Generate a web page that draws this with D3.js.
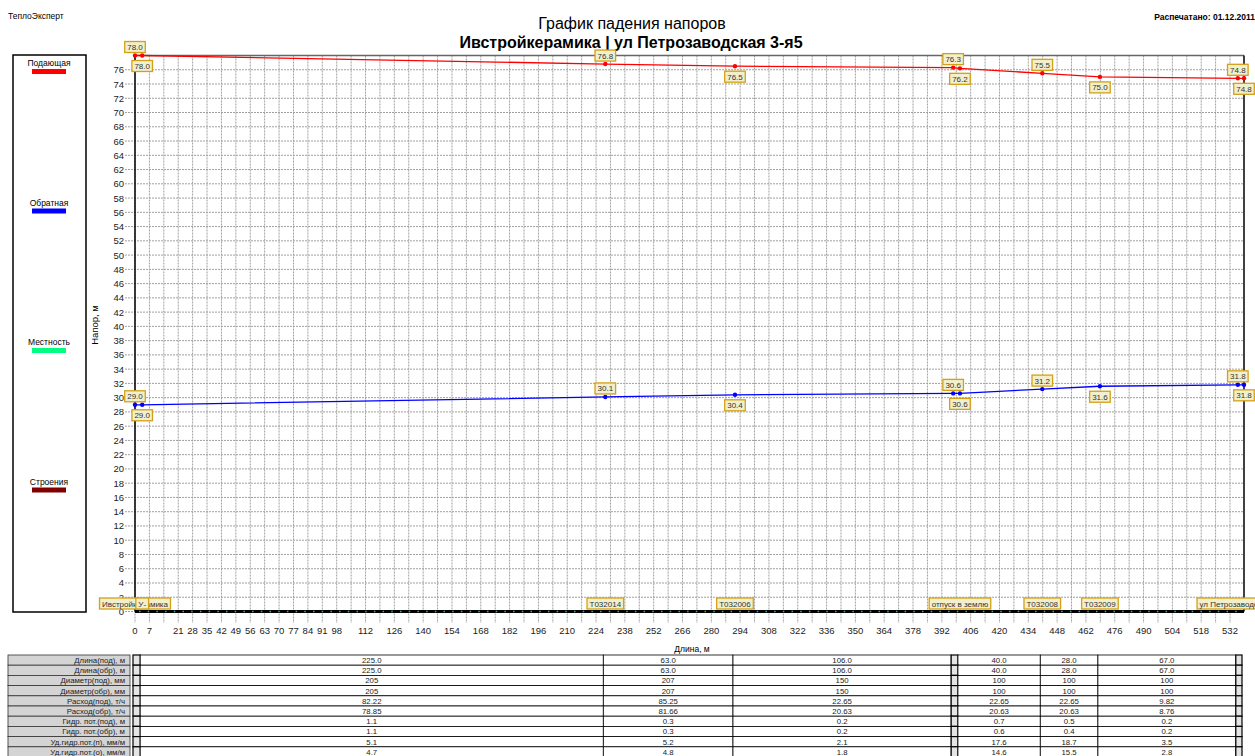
<!DOCTYPE html>
<html><head><meta charset="utf-8">
<script src="https://cdn.jsdelivr.net/npm/d3@7"></script>
<style>body{margin:0;background:#fff}svg{display:block}</style>
</head><body>
<svg id="c" width="1255" height="756"></svg>
<script>
// ---- data ----
const nodeDist   = [0, 3.5, 228.5, 291.5, 397.5, 400.8, 440.8, 468.8, 535.8, 538.8];
const supplyHead = [78.0, 78.0, 76.8, 76.5, 76.3, 76.2, 75.5, 75.0, 74.8, 74.8];
const returnHead = [29.0, 29.0, 30.1, 30.4, 30.6, 30.6, 31.2, 31.6, 31.8, 31.8];
const nodeNames  = ["Ивстройкерамика", "У-", "T032014", "T032006", "", "отпуск в землю", "T032008", "T032009", "", "ул Петрозаводская 3-я5"];
const xTickLabels = [0, 7, 21, 28, 35, 42, 49, 56, 63, 70, 77, 84, 91, 98, 112, 126, 140, 154, 168, 182, 196, 210, 224, 238, 252, 266, 280, 294, 308, 322, 336, 350, 364, 378, 392, 406, 420, 434, 448, 462, 476, 490, 504, 518, 532];
const yTickLabels = [0,2,4,6,8,10,12,14,16,18,20,22,24,26,28,30,32,34,36,38,40,42,44,46,48,50,52,54,56,58,60,62,64,66,68,70,72,74,76];
const legendNames = ["Подающая", "Обратная", "Местность", "Строения"];
const legendColors = ["#ff0000", "#0000ff", "#00ff80", "#800000"];
const tableRows = ["Длина(под), м", "Длина(обр), м", "Диаметр(под), мм", "Диаметр(обр), мм", "Расход(под), т/ч", "Расход(обр), т/ч", "Гидр. пот.(под), м", "Гидр. пот.(обр), м", "Уд.гидр.пот.(п), мм/м", "Уд.гидр.пот.(о), мм/м"];
// columns: segment between consecutive nodes (narrow segments have no values)
const lenSup  = ["", "225.0", "63.0", "106.0", "", "40.0", "28.0", "67.0", ""];
const lenRet  = ["", "225.0", "63.0", "106.0", "", "40.0", "28.0", "67.0", ""];
const diaSup  = ["", "205", "207", "150", "", "100", "100", "100", ""];
const diaRet  = ["", "205", "207", "150", "", "100", "100", "100", ""];
const flowSup = ["", "82.22", "85.25", "22.65", "", "22.65", "22.65", "9.82", ""];
const flowRet = ["", "78.85", "81.66", "20.63", "", "20.63", "20.63", "8.76", ""];
const lossSup = ["", "1.1", "0.3", "0.2", "", "0.7", "0.5", "0.2", ""];
const lossRet = ["", "1.1", "0.3", "0.2", "", "0.6", "0.4", "0.2", ""];
const specSup = ["", "5.1", "5.2", "2.1", "", "17.6", "18.7", "3.5", ""];
const specRet = ["", "4.7", "4.8", "1.8", "", "14.6", "15.5", "2.8", ""];
const tableValues = [lenSup, lenRet, diaSup, diaRet, flowSup, flowRet, lossSup, lossRet, specSup, specRet];

// ---- drawing ----
const svg = d3.select("#c");
const FONT = "Liberation Sans, Arial, sans-serif";
const x = d3.scaleLinear().domain([0, 538.8]).range([135, 1244]);
const y = d3.scaleLinear().domain([0, 78]).range([611.5, 55.5]);

// header texts
svg.append("text").attr("x", 8).attr("y", 19).attr("font-family", FONT).attr("font-size", 8.5).attr("fill", "#000").text("ТеплоЭксперт");
svg.append("text").attr("x", 1255).attr("y", 20).attr("text-anchor", "end").attr("font-family", FONT).attr("font-size", 8.5).attr("font-weight", "bold").text("Распечатано: 01.12.2011");
svg.append("text").attr("x", 632).attr("y", 29).attr("text-anchor", "middle").attr("font-family", FONT).attr("font-size", 16).text("График падения напоров");
svg.append("text").attr("x", 631).attr("y", 48).attr("text-anchor", "middle").attr("font-family", FONT).attr("font-size", 16).attr("font-weight", "bold").text("Ивстройкерамика | ул Петрозаводская 3-я5");

// legend
svg.append("rect").attr("x", 13).attr("y", 55).attr("width", 73).attr("height", 557).attr("fill", "none").attr("stroke", "#000").attr("stroke-width", 1.5);
legendNames.forEach((n, i) => {
  const cy = 63 + i * 139.5;
  svg.append("text").attr("x", 49).attr("y", cy + 3).attr("text-anchor", "middle").attr("font-family", FONT).attr("font-size", 8.5).text(n);
  svg.append("rect").attr("x", 32).attr("y", cy + 6).attr("width", 34).attr("height", 5).attr("fill", legendColors[i]);
});

// grid
const g = svg.append("g");
const xGrid = d3.range(0, 533, 7);
g.selectAll(".vg").data(xGrid).join("line")
  .attr("x1", d => x(d)).attr("x2", d => x(d)).attr("y1", y(78)).attr("y2", 623)
  .attr("stroke", "#a0a0a0").attr("stroke-width", 1).attr("stroke-dasharray", "2,1");
g.selectAll(".hg").data(yTickLabels).join("line")
  .attr("x1", 125).attr("x2", x(538.8)).attr("y1", d => y(d)).attr("y2", d => y(d))
  .attr("stroke", "#a0a0a0").attr("stroke-width", 1).attr("stroke-dasharray", "2,1");

// frame
svg.append("line").attr("x1", x(0)).attr("x2", x(538.8)).attr("y1", y(78)).attr("y2", y(78)).attr("stroke", "#666").attr("stroke-width", 1.5);
svg.append("line").attr("x1", x(538.8)).attr("x2", x(538.8)).attr("y1", y(78)).attr("y2", y(0)).attr("stroke", "#000").attr("stroke-width", 1.5);
svg.append("line").attr("x1", x(0)).attr("x2", x(0)).attr("y1", y(78)).attr("y2", y(0)).attr("stroke", "#000").attr("stroke-width", 1.5);
// ground
svg.append("line").attr("x1", x(0)).attr("x2", x(538.8)).attr("y1", y(0)).attr("y2", y(0)).attr("stroke", "#000").attr("stroke-width", 3);
svg.append("line").attr("x1", x(0) + 4).attr("x2", x(538.8)).attr("y1", y(0)).attr("y2", y(0)).attr("stroke", "#20c080").attr("stroke-width", 1.5).attr("stroke-dasharray", "1.5,7.2");

// axes labels
svg.selectAll(".yt").data(yTickLabels).join("text")
  .attr("x", 124).attr("y", d => y(d) + 3.5).attr("text-anchor", "end")
  .attr("font-family", FONT).attr("font-size", 9.5).attr("fill", "#222").text(d => d);
svg.selectAll(".xt").data(xTickLabels).join("text")
  .attr("x", d => x(d)).attr("y", 634).attr("text-anchor", "middle")
  .attr("font-family", FONT).attr("font-size", 9.5).attr("fill", "#222").text(d => d);
svg.append("text").attr("transform", "translate(98,325) rotate(-90)").attr("text-anchor", "middle")
  .attr("font-family", FONT).attr("font-size", 9.5).text("Напор, м");
svg.append("text").attr("x", 692).attr("y", 652).attr("text-anchor", "middle")
  .attr("font-family", FONT).attr("font-size", 8.5).text("Длина, м");

// lines
function series(vals, color) {
  const pts = nodeDist.map((d, i) => [d, vals[i]]);
  svg.append("path").datum(pts)
    .attr("d", d3.line().x(p => x(p[0])).y(p => y(p[1])))
    .attr("fill", "none").attr("stroke", color).attr("stroke-width", 1.3);
  svg.selectAll(null).data(pts).join("circle")
    .attr("cx", p => x(p[0])).attr("cy", p => y(p[1])).attr("r", 2.2).attr("fill", color);
}
series(supplyHead, "#ff0000");
series(returnHead, "#0000ff");

function labelBox(cx, top, txt, anchorMid) {
  const grp = svg.append("g");
  const t = grp.append("text").attr("font-family", FONT).attr("font-size", 8).attr("fill", "#333")
    .attr("text-anchor", "middle").attr("x", cx).attr("y", top + 8.5).text(txt);
  const w = t.node().getComputedTextLength() + 5;
  grp.insert("rect", "text").attr("x", cx - w / 2).attr("y", top).attr("width", w).attr("height", 11)
    .attr("fill", "#f2efcc").attr("stroke", "#d4a017").attr("stroke-width", 1.3);
}
[supplyHead, returnHead].forEach(vals => {
  vals.forEach((v, i) => {
    const py = y(v);
    const top = (i % 2 === 0) ? py - 14 : py + 5;
    labelBox(x(nodeDist[i]), top, v.toFixed(1));
  });
});
nodeNames.forEach((n, i) => {
  if (n) labelBox(x(nodeDist[i]), 598, n);
});

// table
const tTop = 655, rh = 10.2, off = -2;
const colEdges = nodeDist.map(d => x(d) + off);
tableRows.forEach((name, r) => {
  const ty = tTop + r * rh;
  svg.append("rect").attr("x", 8).attr("y", ty).attr("width", 122).attr("height", rh)
    .attr("fill", "#d4d4d4").attr("stroke", "#333").attr("stroke-width", 0.8);
  svg.append("text").attr("x", 125).attr("y", ty + 8).attr("text-anchor", "end")
    .attr("font-family", FONT).attr("font-size", 7.8).attr("fill", "#222").text(name);
  for (let c = 0; c < colEdges.length - 1; c++) {
    const x0 = colEdges[c], x1 = colEdges[c + 1];
    const val = tableValues[r][c];
    const narrow = (x1 - x0) < 12;
    svg.append("rect").attr("x", x0).attr("y", ty).attr("width", x1 - x0).attr("height", rh)
      .attr("fill", narrow ? "#e4e4e4" : "#fff").attr("stroke", "#000").attr("stroke-width", narrow ? 1.2 : 0.8);
    if (val) svg.append("text").attr("x", (x0 + x1) / 2).attr("y", ty + 8).attr("text-anchor", "middle")
      .attr("font-family", FONT).attr("font-size", 7.8).attr("fill", "#222").text(val);
  }
});
</script>
</body></html>
